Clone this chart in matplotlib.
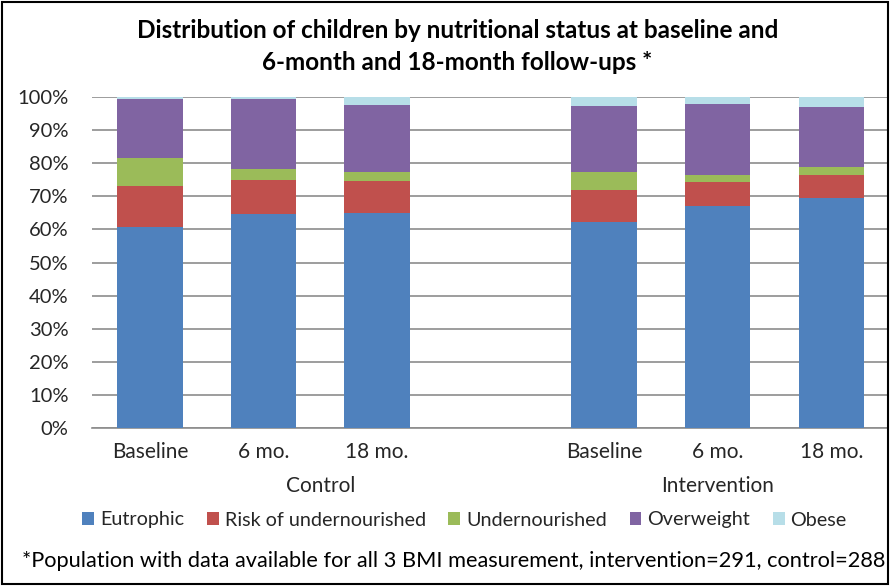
import matplotlib
matplotlib.use("Agg")
import matplotlib.pyplot as plt
from matplotlib.patches import Rectangle
import matplotlib.transforms as mtransforms
import numpy as np

plt.rcParams['font.family'] = ['Lato', 'DejaVu Sans']

categories = ["Baseline", "6 mo.", "18 mo.", "Baseline", "6 mo.", "18 mo."]
groups = ["Control", "Intervention"]
series_names = ["Eutrophic", "Risk of undernourished", "Undernourished", "Overweight", "Obese"]
eutrophic = [60.7, 64.6, 64.9, 62.3, 67.0, 69.6]
risk_under = [12.3, 10.4, 9.7, 9.5, 7.3, 6.9]
undernourished = [8.6, 3.1, 2.7, 5.5, 2.2, 2.4]
overweight = [17.7, 21.2, 20.2, 19.9, 21.3, 18.0]
obese = [0.7, 0.7, 2.5, 2.8, 2.2, 3.1]
colors = ["#4F81BD", "#C0504D", "#9BBB59", "#8064A2", "#B7DEE8"]

series = [eutrophic, risk_under, undernourished, overweight, obese]
xpos = np.array([0, 1, 2, 4, 5, 6])

fig = plt.figure(figsize=(8.9, 5.86), dpi=100)
ax = fig.add_axes([92/890, 1-428/586, 796/890, (428-97)/586])

bottom = np.zeros(len(categories))
for vals, col, name in zip(series, colors, series_names):
    v = np.array(vals) / 100.0
    ax.bar(xpos, v, width=0.575, bottom=bottom, color=col, label=name, zorder=3,
           edgecolor='none')
    bottom += v

ax.set_xlim(-0.51, 6.5)
ax.set_ylim(0, 1.0)
ticks = np.arange(0, 1.01, 0.1)
ax.set_yticks(ticks)
ax.set_yticklabels([f"{int(round(t*100))}%" for t in ticks], fontsize=14.5, color='#262626')
ax.yaxis.grid(True, color="#8C8C8C", linewidth=1.2, zorder=0)
ax.set_axisbelow(True)
for s in ['left', 'right', 'top']:
    ax.spines[s].set_visible(False)
ax.spines['bottom'].set_color("#8C8C8C")
ax.spines['bottom'].set_linewidth(1.2)
ax.tick_params(axis='y', length=0, pad=17)
ax.tick_params(axis='x', length=0, pad=10)
ax.set_xticks(xpos)
ax.set_xticklabels(categories, fontsize=15, color='#262626')

# group labels
trans = mtransforms.blended_transform_factory(ax.transData, fig.transFigure)
for gname, cx in zip(groups, [1.5, 5]):
    ax.text(cx, 1 - 486/586, gname, transform=trans,
            ha='center', va='center', fontsize=15, color='#262626')

fig.text(0.514, 1-30/586, "Distribution of children by nutritional status at baseline and",
         ha='center', va='center', fontsize=17.5, fontweight='bold')
fig.text(0.514, 1-62/586, "6-month and 18-month follow-ups *",
         ha='center', va='center', fontsize=17.5, fontweight='bold')

handles, labels = ax.get_legend_handles_labels()
leg = fig.legend(handles, labels, loc='center', bbox_to_anchor=(0.522, 1-520/586), ncol=5,
                 frameon=False, fontsize=14.2, handlelength=0.6, handleheight=0.6,
                 handletextpad=0.3, columnspacing=1.15)
for t in leg.get_texts():
    t.set_color('#262626')

fig.text(22/890, 1-561/586,
         "*Population with data available for all 3 BMI measurement, intervention=291, control=288",
         ha='left', va='center', fontsize=15.7)

fig.patches.append(Rectangle((0.002, 0.004), 0.996, 0.992, transform=fig.transFigure,
                             fill=False, edgecolor='black', linewidth=1.5))

fig.savefig("out.png", dpi=100)
